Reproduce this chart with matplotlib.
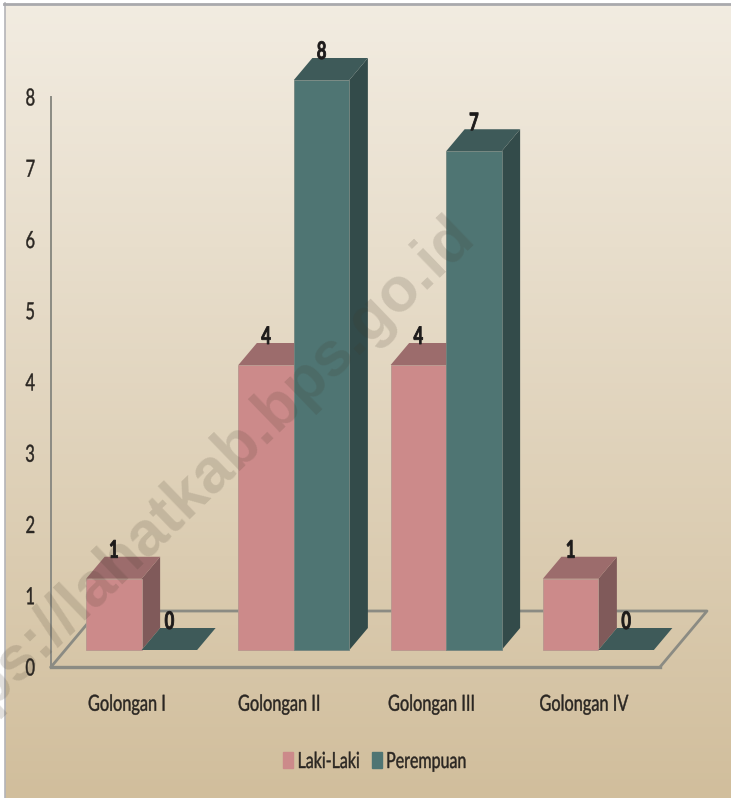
import numpy as np
import matplotlib
matplotlib.use('Agg')
import matplotlib.pyplot as plt
from matplotlib.patches import Polygon, Patch
from matplotlib.patheffects import AbstractPathEffect
from matplotlib.transforms import Affine2D

categories = ['Golongan I', 'Golongan II', 'Golongan III', 'Golongan IV']
laki = [1, 4, 4, 1]
perempuan = [0, 8, 7, 0]
y_ticks = [0, 1, 2, 3, 4, 5, 6, 7, 8]

W, H = 731, 798
plt.rcParams['font.family'] = ['Lato', 'DejaVu Sans']


# squeeze text sideways, the chart uses a narrow font that is not installed
class Narrow(AbstractPathEffect):
    def __init__(self, sx=0.73, keep_left=False, lw=0.3):
        super().__init__()
        self.sx = sx
        self.keep_left = keep_left
        self.lw = lw

    def draw_path(self, renderer, gc, tpath, affine, rgbFace=None):
        ext = tpath.get_extents()
        cx = ext.x0 if self.keep_left else (ext.x0 + ext.x1) / 2
        t = Affine2D().translate(-cx, 0).scale(self.sx, 1).translate(cx, 0) + affine
        gc0 = renderer.new_gc()
        gc0.copy_properties(gc)
        gc0.set_linewidth(self.lw)
        gc0.set_foreground(rgbFace)
        renderer.draw_path(gc0, tpath, t, rgbFace)
        gc0.restore()


fig = plt.figure(figsize=(W / 100, H / 100), dpi=100)

# background gradient
bg = fig.add_axes([5 / W, 0, 1 - 5 / W, 1 - 5 / H], zorder=-1)
bg.axis('off')
grad = np.linspace(0, 1, 256).reshape(-1, 1)
c1 = np.array([0xf2, 0xec, 0xe1]) / 255
c2 = np.array([0xd1, 0xbe, 0x9c]) / 255
bg.imshow(c1 + (c2 - c1) * grad[..., None], aspect='auto')
fig.add_artist(plt.Line2D([4.5 / W, 4.5 / W], [0, 1 - 3 / H], color='#b4b4b8', lw=1.2))
fig.add_artist(plt.Line2D([4 / W, 1], [1 - 3.5 / H, 1 - 3.5 / H], color='#a9a9ad', lw=2))

ax = fig.add_axes([51 / W, 1 - 667 / H, 609 / W, 570 / H])
ax.patch.set_alpha(0)
ax.set_xlim(-0.5, 3.5)
ax.set_ylim(0, 8)
for s in ax.spines.values():
    s.set_visible(False)

px = 4 / 609      # one pixel in x data units
py = 8 / 570      # one pixel in y data units
bw = 55.5 * px
dx, dy = 18.5 * px, 22 * py
base = 17 * py
shift = 14.5 * px
line = '#8b8b83'
fl_x, fl_y = 47 * px, 56 * py

# floor and wall
ax.plot([-0.5, -0.5], [0, 8], color=line, lw=1.4, clip_on=False, zorder=1)
ax.plot([-0.5, 3.5], [0, 0], color=line, lw=2.4, clip_on=False, zorder=1)
ax.plot([-0.5, -0.5 + fl_x, 3.5 + fl_x, 3.5], [0, fl_y, fl_y, 0], color=line, lw=2.0,
        clip_on=False, zorder=1)


def draw_bar(x0, val, front, top, side, edge, z):
    y1 = base + val
    if val > 0:
        ax.bar(x0, val, bw, bottom=base, align='edge', color=front, edgecolor=edge,
               lw=0.6, clip_on=False, zorder=z + 0.2)
        ax.add_patch(Polygon([(x0 + bw, base), (x0 + bw + dx, base + dy), (x0 + bw + dx, y1 + dy),
                              (x0 + bw, y1)], fc=side, ec='none', clip_on=False, zorder=z))
    ax.add_patch(Polygon([(x0, y1), (x0 + dx, y1 + dy), (x0 + bw + dx, y1 + dy), (x0 + bw, y1)],
                         fc=top, ec='none', clip_on=False, zorder=z))
    ax.text(x0 + bw / 2, y1 + 28.5 * py, str(val), ha='center', va='center', fontsize=17.5,
            fontweight='bold', color='#1c1a1a', zorder=10, clip_on=False,
            path_effects=[Narrow(0.68, lw=0.6)])


for i in range(len(categories)):
    z = 2 + i
    x0 = i + shift - bw
    draw_bar(x0, laki[i], '#cc8a8a', '#9c6c6c', '#805a5a', '#b8968e', z)
    draw_bar(x0 + bw, perempuan[i], '#4f7573', '#3e5a59', '#334b4a', '#73857f', z + 0.5)

ax.set_xticks(range(len(categories)))
ax.set_xticklabels(categories, fontsize=16, color='#2a2622')
ax.set_yticks(y_ticks)
ax.set_yticklabels([str(v) for v in y_ticks], fontsize=17, color='#2a2622')
ax.tick_params(axis='x', length=0, pad=20)
ax.tick_params(axis='y', length=0, pad=10)
for t in ax.get_xticklabels():
    t.set_path_effects([Narrow(0.735)])
for t in ax.get_yticklabels():
    t.set_path_effects([Narrow(0.7)])

leg = ax.legend(handles=[Patch(color='#cc8a8a', label='Laki-Laki'), Patch(color='#4f7573', label='Perempuan')],
                ncol=2, frameon=False, fontsize=16, labelcolor='#2a2622', loc='center left',
                bbox_to_anchor=(283 / W, 1 - 762 / H), bbox_transform=fig.transFigure,
                borderpad=0, borderaxespad=0,
                handlelength=0.45, handleheight=0.7, handletextpad=0.18, columnspacing=-0.55)
for t in leg.get_texts():
    t.set_path_effects([Narrow(0.72, keep_left=True)])

# watermark
fig.text(477 / W, 1 - 238 / H, 'https://lahatkab.bps.go.id', rotation=44, rotation_mode='anchor',
         ha='right', va='baseline', fontsize=45, fontweight='bold', family='Liberation Sans',
         color='#40382a', alpha=0.16, zorder=20)

fig.savefig('out.png', dpi=100)
